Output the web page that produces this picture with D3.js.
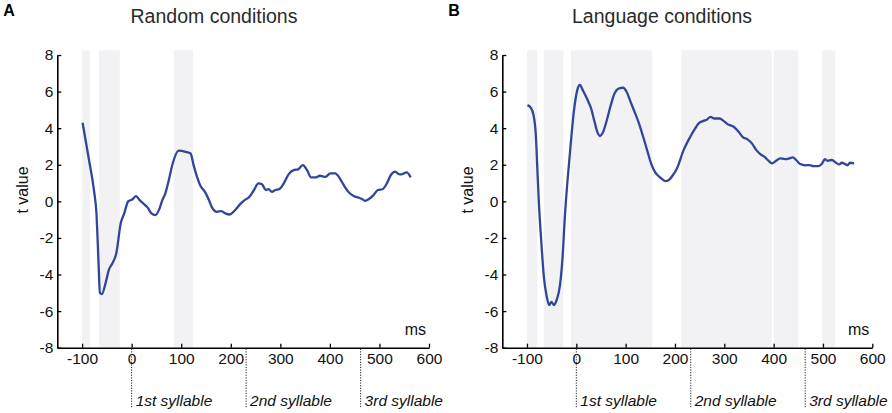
<!DOCTYPE html>
<html>
<head>
<meta charset="utf-8">
<script src="https://cdn.jsdelivr.net/npm/d3@7"></script>
<style>
  body { margin: 0; background: #fff; }
  text { font-family: "Liberation Sans", Arial, sans-serif; }
</style>
</head>
<body>
<div id="chart"></div>
<script>
// tick values
var xTicks = [-100, 0, 100, 200, 300, 400, 500, 600];
var yTicks = [-8, -6, -4, -2, 0, 2, 4, 6, 8];

// syllable onsets (ms) and their labels
var syllableLabels = ["1st syllable", "2nd syllable", "3rd syllable"];
var randomSyllables = [0, 231, 462];
var languageSyllables = [0, 232, 464];

// Random conditions (panel A)
var randomMs = [-99, -86, -76, -71, -67, -64, -60, -52, -46, -39, -31, -22, -15, -7, 1, 9, 16, 25, 32, 40,
  48, 55, 62, 68, 75, 83, 95, 109, 119, 125, 132, 139, 148, 156, 162, 172, 181, 189, 198, 208,
  219, 230, 236, 246, 256, 263, 271, 276, 283, 290, 298, 307, 317, 327, 336, 345, 354, 362, 372, 380,
  391, 401, 411, 417, 424, 432, 439, 448, 458, 464, 471, 479, 488, 497, 506, 515, 523, 532, 539, 545,
  555, 563];
var randomT = [4.3, 2.26, 0.6, -0.66, -3.2, -5.0, -5.07, -4.4, -3.75, -3.4, -2.84, -1.2, -0.66, 0.0, 0.1, 0.29, 0.07, -0.15, -0.33, -0.66,
  -0.75, -0.48, 0.07, 0.44, 1.16, 2.08, 2.77, 2.71, 2.62, 1.98, 1.34, 0.84, 0.52, 0.07, -0.33, -0.57, -0.53, -0.66, -0.72, -0.5,
  -0.15, 0.11, 0.2, 0.58, 0.98, 0.93, 0.62, 0.67, 0.52, 0.62, 0.67, 0.98, 1.49, 1.71, 1.75, 1.98, 1.71, 1.31, 1.31, 1.4,
  1.34, 1.53, 1.53, 1.38, 1.07, 0.71, 0.47, 0.29, 0.2, 0.14, 0.03, 0.13, 0.34, 0.62, 0.66, 0.98, 1.44, 1.62, 1.49, 1.48,
  1.58, 1.31];
// significant windows [start, end] in ms
var randomWindows = [[-100, -84], [-66, -24], [85, 124]];

// Language conditions (panel B)
var languageMs = [-99, -92, -87, -82, -79, -76, -71, -65.5, -60, -55, -50.5, -45, -40, -33, -28, -23, -18, -11.5, -5, 2,
  7, 14, 22, 30, 37, 42.5, 48, 54.5, 61, 69, 77.5, 86, 95, 102, 110, 118, 127, 135.5, 143.5, 151.5,
  160, 170.5, 180.5, 187, 196, 204, 217.5, 231, 241, 248, 258, 265, 272, 280, 290.5, 298.5, 306.5, 319, 329, 338,
  347, 356, 365, 373, 381, 389.5, 396.5, 405, 413, 423, 432, 439, 445.5, 454, 464, 472.5, 481, 491, 497.5, 504,
  509, 518, 526.5, 533, 538, 545, 549.5, 555, 563];
var languageT = [5.26, 5.11, 4.75, 3.62, 1.8, 0, -2.2, -4.2, -5.2, -5.67, -5.49, -5.67, -5.4, -4.57, -3.12, -0.75, 1.07, 3.08, 4.9, 6.08,
  6.36, 6.03, 5.59, 5.08, 4.35, 3.8, 3.58, 3.8, 4.35, 5.17, 5.9, 6.17, 6.21, 5.99, 5.44, 4.9, 4.26, 3.53, 2.8, 2.08,
  1.58, 1.29, 1.11, 1.16, 1.44, 1.8, 2.8, 3.53, 3.99, 4.26, 4.4, 4.48, 4.62, 4.53, 4.53, 4.4, 4.22, 4.08, 3.8, 3.5,
  3.39, 3.17, 2.8, 2.58, 2.44, 2.22, 2.08, 2.22, 2.35, 2.31, 2.35, 2.4, 2.26, 2.04, 1.97, 1.98, 1.93, 1.93, 2.04, 2.3,
  2.22, 2.26, 2.11, 2.02, 2.11, 2.04, 1.97, 2.11, 2.08];
var languageWindows = [[-100, -79], [-66, -26], [-11, 154], [213, 396], [400, 450], [498, 525]];

var W = 892, H = 413;
var svg = d3.select("#chart")
  .append("svg")
    .attr("width", W)
    .attr("height", H);

var lineColor = "#30469a";

function drawPanel(opts) {
  var g = svg.append("g");

  var x = d3.scaleLinear()
    .domain([-150, 600])
    .range([opts.left, opts.right]);
  var y = d3.scaleLinear()
    .domain([-8, 8])
    .range([347.7, 55]);

  // shaded windows
  g.selectAll("rect.win")
    .data(opts.windows)
    .enter()
    .append("rect")
      .attr("x", function(d) { return x(d[0]); })
      .attr("width", function(d) { return x(d[1]) - x(d[0]); })
      .attr("y", y(8.25))
      .attr("height", y(-8) - y(8.25))
      .attr("fill", "#f2f2f5");

  // axes (ticks pointing inward), plain hyphen for negatives
  var fmt = function(d) { return String(d); };
  var xAxis = g.append("g")
    .attr("transform", "translate(0," + y(-8) + ")")
    .call(d3.axisBottom(x).tickValues(xTicks).tickFormat(fmt).tickSizeInner(-4).tickSizeOuter(0).tickPadding(5));
  var yAxis = g.append("g")
    .attr("transform", "translate(" + x(-150) + ",0)")
    .call(d3.axisLeft(y).tickValues(yTicks).tickFormat(fmt).tickSizeInner(-4).tickSizeOuter(0).tickPadding(4));
  [xAxis, yAxis].forEach(function(a) {
    a.select(".domain").attr("stroke", "#000").attr("stroke-width", 1.6);
    a.selectAll(".tick line").attr("stroke", "#000").attr("stroke-width", 1.3);
    a.selectAll(".tick text")
      .style("font-family", "'Liberation Sans', Arial, sans-serif")
      .style("font-size", "15.5px")
      .attr("fill", "#111");
  });

  // t value line
  var pts = opts.ms.map(function(m, i) { return [m, opts.t[i]]; });
  var line = d3.line()
    .x(function(d) { return x(d[0]); })
    .y(function(d) { return y(d[1]); })
    .curve(d3.curveMonotoneX);
  g.append("path")
    .datum(pts)
    .attr("d", line)
    .attr("fill", "none")
    .attr("stroke", lineColor)
    .attr("stroke-width", 2.3)
    .attr("stroke-linejoin", "round");

  // syllable markers
  g.selectAll("line.syl")
    .data(opts.syllables)
    .enter()
    .append("line")
      .attr("x1", function(d) { return x(d); })
      .attr("x2", function(d) { return x(d); })
      .attr("y1", y(-8) + 1)
      .attr("y2", 408)
      .attr("stroke", "#222")
      .attr("stroke-width", 1)
      .attr("stroke-dasharray", "1.2,1.4");
  g.selectAll("text.syl")
    .data(opts.syllables)
    .enter()
    .append("text")
      .attr("x", function(d) { return x(d) + 4; })
      .attr("y", 406)
      .text(function(d, i) { return syllableLabels[i]; })
      .style("font-size", "15.5px")
      .style("font-style", "italic")
      .attr("fill", "#111");

  // labels
  g.append("text")
    .attr("x", x(600) - 3)
    .attr("y", 335)
    .attr("text-anchor", "end")
    .text("ms")
    .style("font-size", "16px")
    .attr("fill", "#111");

  g.append("text")
    .attr("transform", "translate(" + (opts.left - 29) + ",190) rotate(-90)")
    .attr("text-anchor", "middle")
    .text("t value")
    .style("font-size", "16px")
    .attr("fill", "#111");

  g.append("text")
    .attr("x", opts.titleX)
    .attr("y", 23)
    .attr("text-anchor", "middle")
    .text(opts.title)
    .style("font-size", "19.5px")
    .attr("fill", "#2a2a2a");

  g.append("text")
    .attr("x", opts.left - 54)
    .attr("y", 16)
    .text(opts.letter)
    .style("font-size", "16px")
    .style("font-weight", "bold")
    .attr("fill", "#000");
}

drawPanel({ left: 57.3, right: 429, ms: randomMs, t: randomT, windows: randomWindows,
  syllables: randomSyllables, title: "Random conditions", titleX: 214, letter: "A" });
drawPanel({ left: 502.3, right: 872.3, ms: languageMs, t: languageT, windows: languageWindows,
  syllables: languageSyllables, title: "Language conditions", titleX: 662, letter: "B" });
</script>
</body>
</html>
